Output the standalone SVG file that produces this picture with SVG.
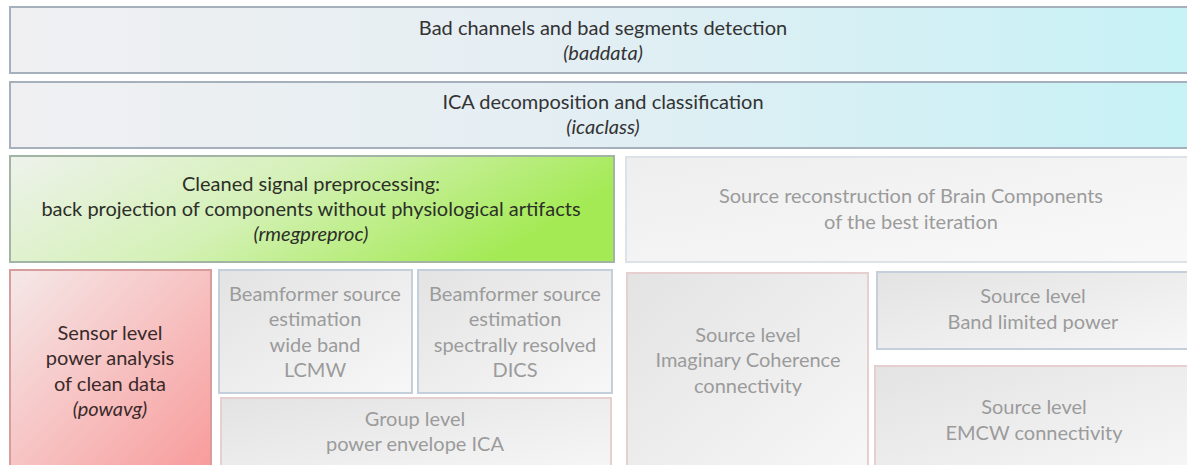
<svg xmlns="http://www.w3.org/2000/svg" width="1187" height="465" viewBox="0 0 1187 465">
  <defs>
    <linearGradient id="gCyan" x1="0" y1="0" x2="1" y2="0">
      <stop offset="0" stop-color="#f0f0f2"/>
      <stop offset="0.45" stop-color="#e4eef3"/>
      <stop offset="1" stop-color="#c6f2f6"/>
    </linearGradient>
    <linearGradient id="gGreen" x1="0" y1="0" x2="1" y2="0.3">
      <stop offset="0" stop-color="#eef2ec"/>
      <stop offset="0.5" stop-color="#d4f1b6"/>
      <stop offset="1" stop-color="#a4ea55"/>
    </linearGradient>
    <linearGradient id="gRed" x1="0" y1="0" x2="1" y2="1">
      <stop offset="0" stop-color="#f5e8e8"/>
      <stop offset="0.5" stop-color="#f7c2c2"/>
      <stop offset="1" stop-color="#f89a9a"/>
    </linearGradient>
    <linearGradient id="gGray" x1="0" y1="0" x2="1" y2="1">
      <stop offset="0" stop-color="#e3e3e4"/>
      <stop offset="1" stop-color="#f7f7f8"/>
    </linearGradient>
    <linearGradient id="gLight" x1="0" y1="0" x2="1" y2="1">
      <stop offset="0" stop-color="#eeeeef"/>
      <stop offset="1" stop-color="#f9f9fa"/>
    </linearGradient>
  </defs>
  <style>
    text { font-family: Lato, "Open Sans", "Liberation Sans", sans-serif; font-size: 20px; text-anchor: middle; }
    .dark { fill: #333333; }
    .green { fill: #2c2f28; }
    .redt { fill: #3a2a2a; }
    .dim { fill: #9b9b9b; }
    .it { font-style: italic; }
    .bCyan { fill: url(#gCyan); stroke: #a6b0bc; stroke-width: 2; }
    .bGreen { fill: url(#gGreen); stroke: #a2b4a4; stroke-width: 2; }
    .bRed { fill: url(#gRed); stroke: #d79c9c; stroke-width: 2; }
    .bBlue { fill: url(#gGray); stroke: #c3d0dc; stroke-width: 2; }
    .bPink { fill: url(#gGray); stroke: #e6cfcf; stroke-width: 2; }
    .bRecon { fill: url(#gLight); stroke: #dde1e8; stroke-width: 2; }
  </style>
  <rect width="1187" height="465" fill="#ffffff"/>

  <g id="baddata">
    <rect class="bCyan" x="10" y="7" width="1190" height="66"/>
    <text class="dark" x="603" y="35">Bad channels and bad segments detection</text>
    <text class="dark it" x="603" y="60">(baddata)</text>
  </g>

  <g id="icaclass">
    <rect class="bCyan" x="10" y="82" width="1190" height="66"/>
    <text class="dark" x="603" y="109">ICA decomposition and classification</text>
    <text class="dark it" x="603" y="134">(icaclass)</text>
  </g>

  <g id="rmegpreproc">
    <rect class="bGreen" x="10" y="156" width="604" height="106"/>
    <text class="green" x="311" y="191">Cleaned signal preprocessing:</text>
    <text class="green" x="311" y="216">back projection of components without physiological artifacts</text>
    <text class="green it" x="311" y="241">(rmegpreproc)</text>
  </g>

  <g id="source-reconstruction">
    <rect class="bRecon" x="626" y="157" width="570" height="105"/>
    <text class="dim" x="911" y="203">Source reconstruction of Brain Components</text>
    <text class="dim" x="911" y="229">of the best iteration</text>
  </g>

  <g id="powavg">
    <rect class="bRed" x="10" y="270" width="201" height="205"/>
    <text class="redt" x="110" y="340">Sensor level</text>
    <text class="redt" x="110" y="365">power analysis</text>
    <text class="redt" x="110" y="391">of clean data</text>
    <text class="redt it" x="110" y="416">(powavg)</text>
  </g>

  <g id="beamformer-lcmw">
    <rect class="bBlue" x="219" y="270" width="193" height="123"/>
    <text class="dim" x="315" y="301">Beamformer source</text>
    <text class="dim" x="315" y="326">estimation</text>
    <text class="dim" x="315" y="352">wide band</text>
    <text class="dim" x="315" y="377">LCMW</text>
  </g>

  <g id="beamformer-dics">
    <rect class="bBlue" x="418" y="270" width="194" height="123"/>
    <text class="dim" x="515" y="301">Beamformer source</text>
    <text class="dim" x="515" y="326">estimation</text>
    <text class="dim" x="515" y="352">spectrally resolved</text>
    <text class="dim" x="515" y="377">DICS</text>
  </g>

  <g id="group-ica">
    <rect class="bPink" x="221" y="398" width="390" height="80"/>
    <text class="dim" x="415" y="426">Group level</text>
    <text class="dim" x="415" y="451">power envelope ICA</text>
  </g>

  <g id="imaginary-coherence">
    <rect class="bPink" x="627" y="273" width="241" height="205"/>
    <text class="dim" x="748" y="342">Source level</text>
    <text class="dim" x="748" y="367">Imaginary Coherence</text>
    <text class="dim" x="748" y="393">connectivity</text>
  </g>

  <g id="band-limited-power">
    <rect class="bBlue" x="877" y="272" width="320" height="77"/>
    <text class="dim" x="1033" y="303">Source level</text>
    <text class="dim" x="1033" y="329">Band limited power</text>
  </g>

  <g id="emcw-connectivity">
    <rect class="bPink" x="875" y="366" width="322" height="112"/>
    <text class="dim" x="1034" y="414">Source level</text>
    <text class="dim" x="1034" y="440">EMCW connectivity</text>
  </g>
</svg>
